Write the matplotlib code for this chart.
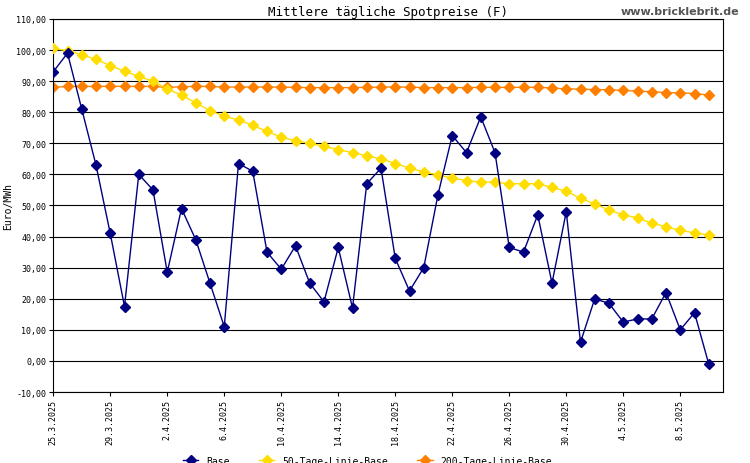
import datetime as dt
import matplotlib
matplotlib.use("Agg")
import matplotlib.pyplot as plt
from matplotlib.lines import Line2D

plt.rcParams["font.family"] = "DejaVu Sans Mono"

start = dt.date(2025, 3, 25)
days = [start + dt.timedelta(days=i) for i in range(47)]

base = [93, 99, 81, 63, 41, 17.5, 60, 55, 28.5, 49, 39, 25, 11, 63.5, 61, 35,
        29.5, 37, 25, 19, 36.5, 17, 57, 62, 33, 22.5, 30, 53.5, 72.5, 67, 78.5, 67,
        36.5, 35, 47, 25, 48, 6, 20, 18.5, 12.5, 13.5, 13.5, 22, 10, 15.5, -1]
ma50 = [100.5, 99.8, 98.5, 97, 95, 93.2, 91.5, 90, 87.5, 85.5, 83, 80.5, 78.7, 77.5,
        75.8, 73.8, 72, 70.8, 70, 69, 68, 67, 66, 65, 63.5, 62, 60.8, 59.8, 58.8, 58,
        57.5, 57.5, 57, 57, 57, 55.8, 54.6, 52.3, 50.5, 48.5, 47, 46, 44.3, 43.2, 42,
        41.2, 40.5]
ma200 = [88, 88.3, 88.3, 88.3, 88.3, 88.3, 88.3, 88.3, 88, 88.2, 88.3, 88.3, 88.1,
         88.1, 88.1, 88.1, 88.1, 88, 87.9, 87.9, 87.9, 87.9, 88, 88.1, 88.1, 88.1,
         87.9, 87.9, 87.9, 87.9, 88, 88, 88, 88, 88, 87.8, 87.5, 87.4, 87.3, 87.2,
         87, 86.8, 86.6, 86.3, 86.2, 86, 85.5]

fig = plt.figure(figsize=(7.5, 4.64), dpi=100)
ax = fig.add_axes([0.071, 0.153, 0.893, 0.804])

ax.plot(days, ma200, color="#ff8000", marker="D", markersize=5, lw=1, zorder=2)
ax.plot(days, ma50, color="#ffdd00", marker="D", markersize=5, lw=1, zorder=3)
ax.plot(days, base, color="#000080", marker="D", markersize=5, lw=1, zorder=4)

ax.set_ylim(-10, 110)
ax.set_yticks(range(-10, 111, 10))
ax.set_yticklabels([f"{v},00" for v in range(-10, 111, 10)], fontsize=6)
ax.yaxis.grid(True, color="black", lw=0.8)
ax.set_axisbelow(True)
ax.set_xlim(start - dt.timedelta(days=0.85), days[-1] + dt.timedelta(days=1.2))
ticks = days[::4]
ax.set_xticks(ticks)
ax.set_xticklabels([f"{d.day}.{d.month}.{d.year}" for d in ticks], rotation=90, fontsize=6)
ax.tick_params(length=3, pad=2)
ax.set_ylabel("Euro/MWh", fontsize=7, labelpad=2)
ax.set_title("Mittlere tägliche Spotpreise (F)", fontsize=9, pad=3)
fig.text(0.985, 0.975, "www.bricklebrit.de", ha="right", va="center",
         fontsize=8, fontweight="bold", color="#555555", family="DejaVu Sans")

handles = [Line2D([], [], color=c, marker="D", markersize=5, lw=1)
           for c in ["#000080", "#ffdd00", "#ff8000"]]
fig.legend(handles, ["Base", "50-Tage-Linie-Base", "200-Tage-Linie-Base"],
           loc="lower center", ncol=3, frameon=False, fontsize=7,
           bbox_to_anchor=(0.49, -0.025), columnspacing=3, handlelength=1.6)

fig.savefig("out.png", dpi=100)
